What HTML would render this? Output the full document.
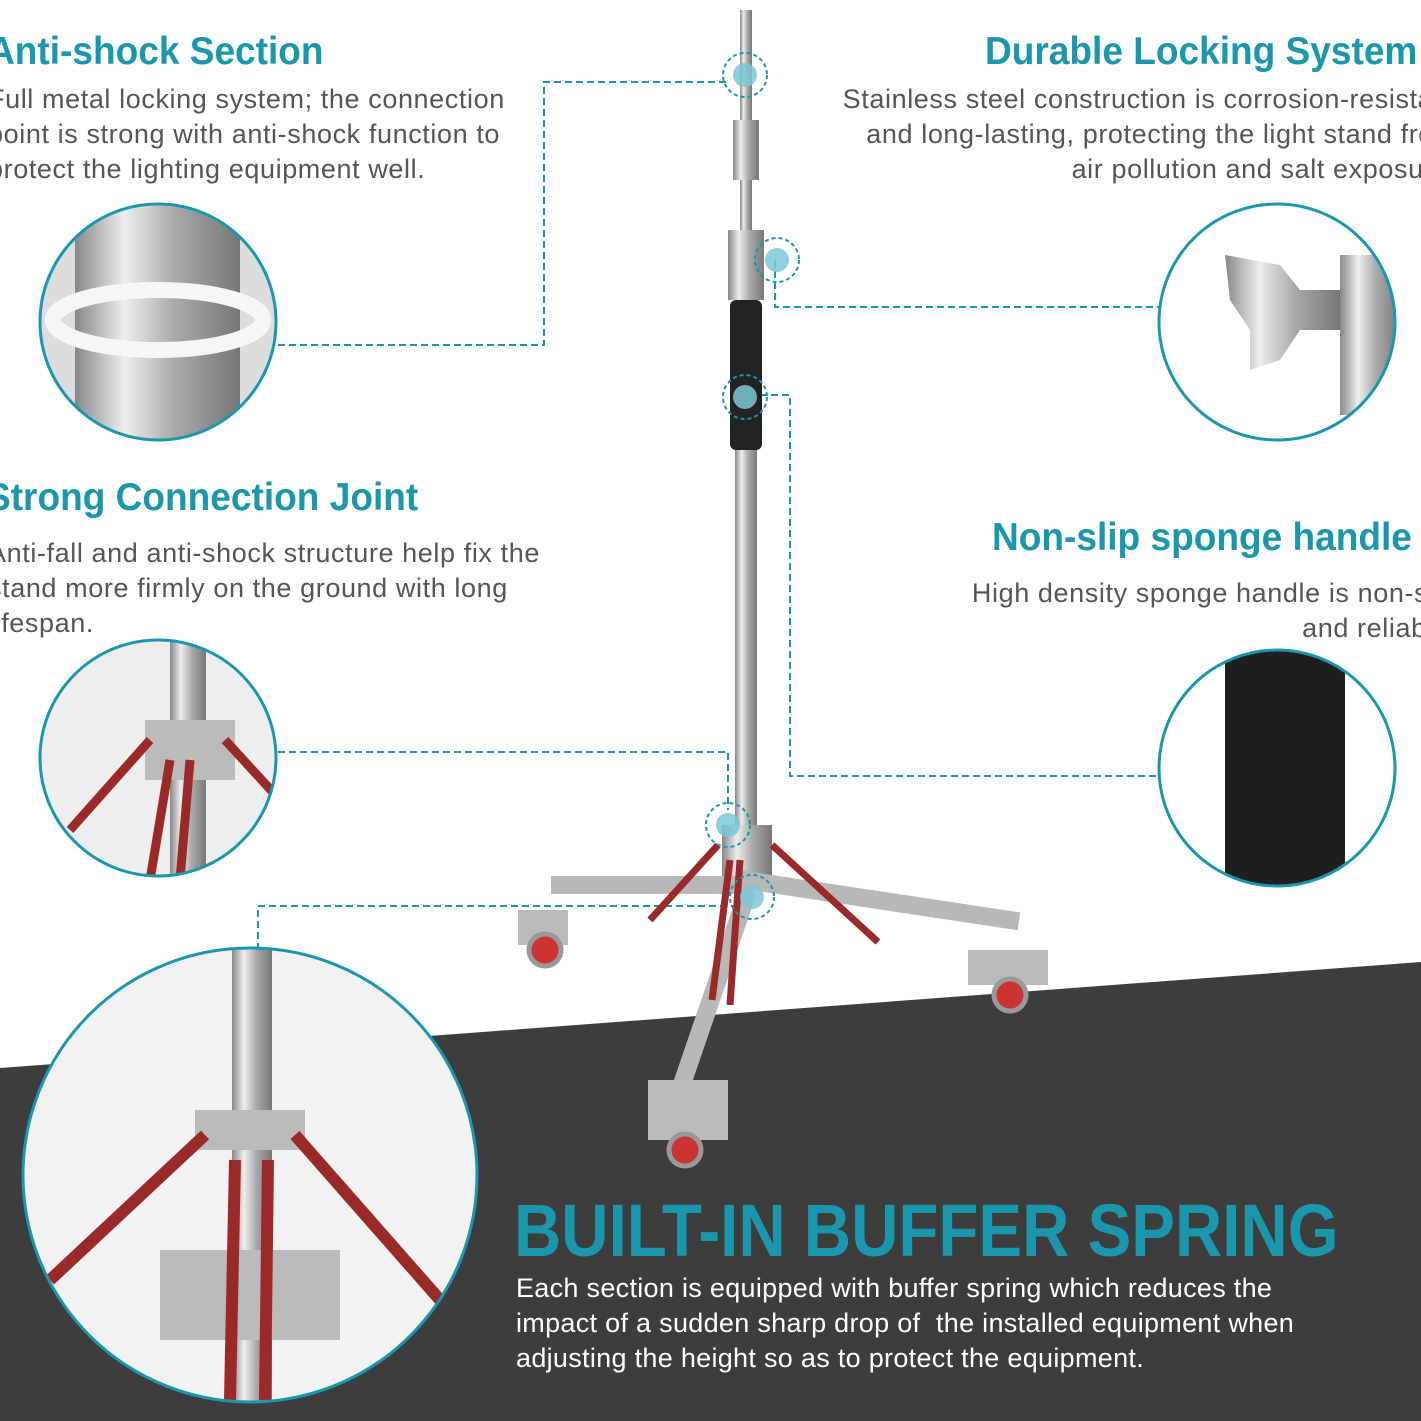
<!DOCTYPE html>
<html><head><meta charset="utf-8"><style>
body{margin:0;width:1421px;height:1421px;position:relative;overflow:hidden;background:#fff;font-family:"Liberation Sans",sans-serif}
.t{position:absolute;color:#1a97ad;font-weight:bold;font-size:39px;white-space:nowrap;transform-origin:0 0;transform:scaleX(0.95)}
.b{position:absolute;color:#555;font-size:27px;line-height:35px;white-space:nowrap;letter-spacing:0.6px}
</style></head><body>
<svg width="1421" height="1421" style="position:absolute;left:0;top:0">
<defs>
<linearGradient id="m" x1="0" x2="1"><stop offset="0" stop-color="#888"/><stop offset=".3" stop-color="#eee"/><stop offset=".6" stop-color="#aaa"/><stop offset="1" stop-color="#777"/></linearGradient>
<clipPath id="c1"><circle cx="158" cy="322" r="117"/></clipPath>
<clipPath id="c2"><circle cx="158" cy="758" r="117"/></clipPath>
<clipPath id="c3"><circle cx="250" cy="1175" r="226"/></clipPath>
<clipPath id="c4"><circle cx="1277" cy="322" r="117"/></clipPath>
<clipPath id="c5"><circle cx="1277" cy="768" r="117"/></clipPath>
</defs>
<polygon points="0,1068 1421,962 1421,1421 0,1421" fill="#3d3d3d"/>
<g fill="none" stroke="#1a97ad" stroke-width="2" stroke-dasharray="7,4">
<polyline points="278,345 544,345 544,82 730,82"/>
<polyline points="775,260 775,307 1160,307"/>
<polyline points="760,395 790,395 790,776 1160,776"/>
<polyline points="278,752 728,752 728,810"/>
<polyline points="258,950 258,906 740,906"/>
</g>
<rect x="740" y="10" width="12" height="250" fill="url(#m)"/>
<rect x="733" y="120" width="26" height="60" fill="url(#m)"/>
<rect x="728" y="230" width="36" height="70" fill="url(#m)"/>
<rect x="730" y="300" width="32" height="150" rx="6" fill="#222"/>
<rect x="735" y="450" width="22" height="380" fill="url(#m)"/>
<rect x="722" y="825" width="50" height="60" fill="url(#m)"/>
<g stroke="#b8b8b8" stroke-width="18" stroke-linecap="square">
<line x1="745" y1="880" x2="1010" y2="920"/><line x1="745" y1="885" x2="560" y2="885"/><line x1="745" y1="900" x2="680" y2="1090"/>
</g>
<g stroke="#9a2a2a" stroke-width="7">
<line x1="718" y1="845" x2="650" y2="920"/><line x1="772" y1="845" x2="878" y2="942"/><line x1="730" y1="860" x2="712" y2="1000"/><line x1="740" y1="860" x2="730" y2="1005"/>
</g>
<g fill="#bbb"><rect x="518" y="910" width="50" height="35"/><rect x="968" y="950" width="80" height="35"/><rect x="648" y="1080" width="80" height="60"/></g>
<g fill="#c33" stroke="#999" stroke-width="5"><circle cx="545" cy="950" r="16"/><circle cx="1010" cy="995" r="16"/><circle cx="685" cy="1150" r="16"/></g>
<g fill="#7cc8d6" opacity=".85"><circle cx="745" cy="75" r="12"/><circle cx="777" cy="260" r="12"/><circle cx="745" cy="397" r="12"/><circle cx="728" cy="825" r="12"/><circle cx="752" cy="897" r="12"/></g>
<g fill="none" stroke="#1a97ad" stroke-width="2" stroke-dasharray="4,3"><circle cx="745" cy="75" r="22"/><circle cx="777" cy="260" r="22"/><circle cx="745" cy="397" r="22"/><circle cx="728" cy="825" r="22"/><circle cx="752" cy="897" r="22"/></g>
<g clip-path="url(#c1)"><rect x="40" y="200" width="240" height="250" fill="#ddd"/><rect x="75" y="200" width="165" height="250" fill="url(#m)"/><ellipse cx="158" cy="320" rx="105" ry="30" fill="none" stroke="#f4f6f8" stroke-width="16"/></g>
<g clip-path="url(#c2)"><rect x="40" y="640" width="240" height="240" fill="#eee"/><rect x="170" y="640" width="36" height="240" fill="url(#m)"/><rect x="145" y="720" width="90" height="60" fill="#bbb"/><g stroke="#9a2a2a" stroke-width="9"><line x1="150" y1="740" x2="70" y2="830"/><line x1="225" y1="740" x2="280" y2="800"/><line x1="170" y1="760" x2="150" y2="880"/><line x1="190" y1="760" x2="180" y2="880"/></g></g>
<g clip-path="url(#c3)"><rect x="20" y="945" width="460" height="460" fill="#f2f2f2"/><rect x="232" y="945" width="40" height="460" fill="url(#m)"/><rect x="160" y="1250" width="180" height="90" fill="#bbb"/><rect x="195" y="1110" width="110" height="40" fill="#bbb"/><g stroke="#9a2a2a" stroke-width="12"><line x1="205" y1="1135" x2="50" y2="1280"/><line x1="295" y1="1135" x2="440" y2="1300"/><line x1="235" y1="1160" x2="230" y2="1400"/><line x1="268" y1="1160" x2="265" y2="1400"/></g></g>
<g clip-path="url(#c4)"><rect x="1160" y="200" width="240" height="250" fill="#fff"/><rect x="1340" y="255" width="60" height="160" fill="url(#m)"/><path d="M1225 255 L1280 265 L1300 290 L1340 290 L1340 330 L1300 330 L1280 360 L1250 370 L1250 330 L1230 300Z" fill="url(#m)"/></g>
<g clip-path="url(#c5)"><rect x="1160" y="650" width="240" height="240" fill="#fff"/><rect x="1225" y="650" width="120" height="240" rx="10" fill="#1e1e1e"/></g>
<g fill="none" stroke="#1a97ad" stroke-width="3"><circle cx="158" cy="322" r="118"/><circle cx="158" cy="758" r="118"/><circle cx="250" cy="1175" r="227"/><circle cx="1277" cy="322" r="118"/><circle cx="1277" cy="768" r="118"/></g>
</svg>
<div class="t" style="left:-12px;top:30px">Anti-shock Section</div>
<div class="b" style="left:-12px;top:82px">Full metal locking system; the connection<br>point is strong with anti-shock function to<br>protect the lighting equipment well.</div>
<div class="t" style="left:-14px;top:476px">Strong Connection Joint</div>
<div class="b" style="left:-12px;top:536px">Anti-fall and anti-shock structure help fix the<br>stand more firmly on the ground with long<br>lifespan.</div>
<div class="t" style="left:985px;top:30px">Durable Locking System</div>
<div class="b" style="right:-36px;top:82px;text-align:right">Stainless steel construction is corrosion-resistant<br>and long-lasting, protecting the light stand from<br>air pollution and salt exposure.</div>
<div class="t" style="left:992px;top:516px">Non-slip sponge handle</div>
<div class="b" style="right:-36px;top:576px;text-align:right">High density sponge handle is non-slip<br>and reliable.</div>
<div class="t" style="left:514px;top:1188px;font-size:74px;transform:scaleX(0.885)">BUILT-IN BUFFER SPRING</div>
<div class="b" style="left:516px;top:1271px;color:#fff;letter-spacing:0.3px">Each section is equipped with buffer spring which reduces the<br>impact of a sudden sharp drop of &nbsp;the installed equipment when<br>adjusting the height so as to protect the equipment.</div>
</body></html>
